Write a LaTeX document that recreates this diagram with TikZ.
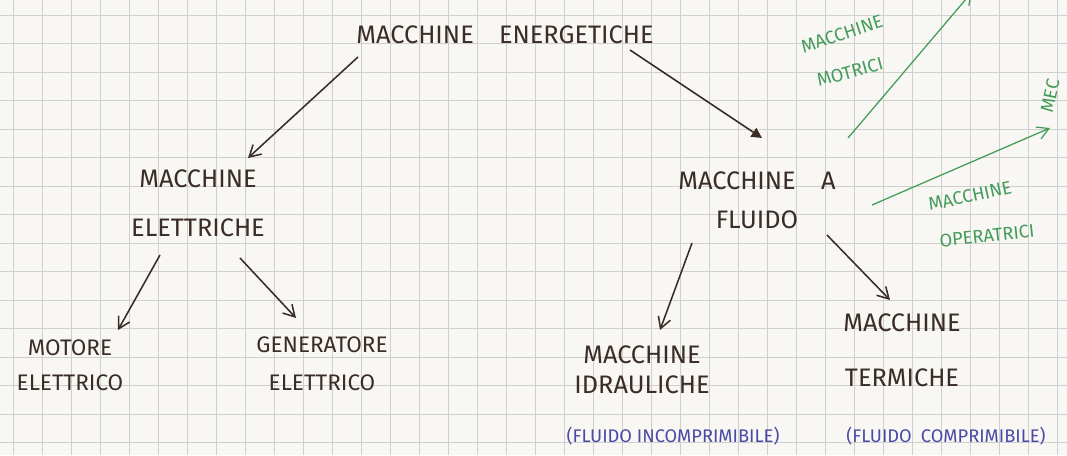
\documentclass[tikz,border=0pt]{standalone}
\usepackage{fontspec}
\setmainfont{Fira Sans}
\usetikzlibrary{arrows.meta}
\definecolor{paper}{HTML}{F8F7F4}
\definecolor{gridgray}{HTML}{CFCFCD}
\definecolor{ink}{HTML}{3A2C26}
\definecolor{penblue}{HTML}{4A4AA6}
\definecolor{pengreen}{HTML}{449C5A}

\begin{document}
\begin{tikzpicture}[x=0.025cm, y=-0.025cm,
    box/.style={text=ink, font=\fontsize{18}{21}\selectfont, align=center, inner sep=1pt},
    smallbox/.style={box, font=\fontsize{16}{19}\selectfont},
    sub/.style={text=penblue, font=\fontsize{13}{15}\selectfont, inner sep=1pt},
    note/.style={text=pengreen, font=\fontsize{13}{15}\selectfont, inner sep=0pt},
    arr/.style={draw=ink, line width=1.1pt, -{Straight Barb[length=2.8mm, width=3.2mm]}},
    greenarr/.style={draw=pengreen, line width=0.9pt, -{Straight Barb[length=2.8mm, width=3.2mm]}}]
  \useasboundingbox (0,0) rectangle (1067,455);
  \clip (0,0) rectangle (1067,455);
  \fill[paper] (0,0) rectangle (1067,455);

  % squared paper
  \foreach \gx in {13,42,...,1060}
    \draw[gridgray, line width=0.6pt] (\gx,0) -- (\gx,455);
  \foreach \gy in {15,43.5,...,450}
    \draw[gridgray, line width=0.6pt] (0,\gy) -- (1067,\gy);

  % brown nodes
  \node[box] (energ) at (505,35) {MACCHINE\quad ENERGETICHE};
  \node[box] (elett) at (198,203) {MACCHINE\\[14pt] ELETTRICHE};
  \node[box] (fluido) at (757,200) {MACCHINE\quad A\\[7pt] FLUIDO};
  \node[smallbox] (motore) at (70,365) {MOTORE\\[6pt] ELETTRICO};
  \node[smallbox] (gener) at (322,364) {GENERATORE\\[8pt] ELETTRICO};
  \node[box] (idraul) at (642,370) {MACCHINE\\ IDRAULICHE};
  \node[box] (termic) at (902,350) {MACCHINE\\[18pt] TERMICHE};

  % blue notes
  \node[sub] (incomp) at (673,436) {(FLUIDO INCOMPRIMIBILE)};
  \node[sub] (comp) at (946,436) {(FLUIDO\enspace COMPRIMIBILE)};

  % green notes
  \node[note, rotate=18] (motr1) at (842,34) {MACCHINE};
  \node[note, rotate=15] (motr2) at (850,72) {MOTRICI};
  \node[note, rotate=12] (oper1) at (970,196) {MACCHINE};
  \node[note, rotate=6] (oper2) at (987,236) {OPERATRICI};
  \node[note, rotate=78] (mec) at (1050,96) {MEC};
  \coordinate (motrend) at (972,-8);
  \coordinate (operend) at (1050,128);

  % tree
  \draw[arr] ([shift={(-147,22)}]energ.center) -- ([shift={(50,-45)}]elett.center);
  \draw[draw=ink, line width=1.1pt, -{Triangle[length=2.6mm, width=2.6mm]}]
    ([shift={(125,15)}]energ.center) -- ([shift={(5,-62)}]fluido.center);
  \draw[arr] ([shift={(-38,52)}]elett.center) -- ([shift={(48,-35)}]motore.center);
  \draw[arr] ([shift={(42,55)}]elett.center) -- ([shift={(-26,-46)}]gener.center);
  \draw[arr] ([shift={(-65,43)}]fluido.center) -- ([shift={(18,-40)}]idraul.center);
  \draw[arr] ([shift={(70,35)}]fluido.center) -- ([shift={(-12,-50)}]termic.center);

  % green arrows
  \draw[greenarr] ([shift={(91,-62)}]fluido.center) -- (motrend);
  \draw[greenarr] ([shift={(115,5)}]fluido.center) -- (operend);
\end{tikzpicture}
\end{document}
